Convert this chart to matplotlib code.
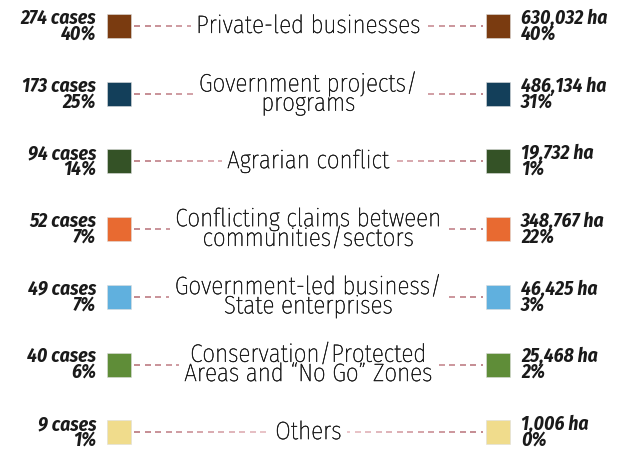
import numpy as np
import matplotlib
matplotlib.use("Agg")
import matplotlib.pyplot as plt
import matplotlib.patheffects as pe
from matplotlib.collections import LineCollection

# Conflict types with number of cases and affected area
categories = [
    "Private-led businesses",
    "Government projects/\nprograms",
    "Agrarian conflict",
    "Conflicting claims between\ncommunities/sectors",
    "Government-led business/\nState enterprises",
    "Conservation/Protected\nAreas and \u201cNo Go\u201d Zones",
    "Others",
]
cases = [274, 173, 94, 52, 49, 40, 9]
cases_pct = [40, 25, 14, 7, 7, 6, 1]
hectares = [630032, 486134, 19732, 348767, 46425, 25468, 1006]
hectares_pct = [40, 31, 1, 22, 3, 2, 0]
colors = ["#7a3b10", "#133f5a", "#345226", "#e86a31", "#60b0de", "#5f8d38", "#f0dc8c"]

W, H = 622, 453
fig = plt.figure(figsize=(W / 100, H / 100), dpi=100)
ax = fig.add_axes([0, 0, 1, 1])
ax.set_xlim(0, W)
row_gap = 67.7
ax.set_ylim((H - 26) / row_gap, -26 / row_gap)
ax.axis("off")

fam = ["Fira Sans Condensed", "DejaVu Sans"]
x_left, x_right, half = 119, 498, 12
x_mid = (x_left + x_right) / 2

line_dark = np.array([0.70, 0.42, 0.45])
line_light = np.array([0.96, 0.82, 0.84])

for i, cat in enumerate(categories):
    y = i
    # fading dashed connector, darker near the squares
    segs, cols = [], []
    x = x_left + half + 3
    while x < x_right - half - 3:
        x2 = min(x + 6, x_right - half - 3)
        segs.append([(x, y), (x2, y)])
        t = abs((x + x2) / 2 - x_mid) / (x_mid - x_left)
        cols.append(line_light + (line_dark - line_light) * t)
        x += 10.5
    ax.add_collection(LineCollection(segs, colors=cols, linewidths=1.2, zorder=1))

    ax.scatter([x_left, x_right], [y, y], marker="s", s=300, color=colors[i],
               edgecolors="#dddddd", linewidths=0.4, zorder=3)

    ax.text(x_mid, y, cat, ha="center", va="center", fontsize=18,
            family=fam, fontweight="light", color="#1a1a1a", linespacing=0.8,
            zorder=2, bbox=dict(facecolor="white", edgecolor="none", pad=4),
            path_effects=[pe.withStroke(linewidth=0.35, foreground="#1a1a1a")])

    ax.text(96, y, f"{cases[i]} cases\n{cases_pct[i]}%", ha="right", va="center",
            fontsize=14, family=fam, fontweight="bold", fontstyle="italic",
            color="#1a1a1a", linespacing=0.75)
    ax.text(521, y, f"{hectares[i]:,} ha\n{hectares_pct[i]}%", ha="left", va="center",
            fontsize=14, family=fam, fontweight="bold", fontstyle="italic",
            color="#1a1a1a", linespacing=0.75)

fig.savefig("out.png", dpi=100, facecolor="white")
